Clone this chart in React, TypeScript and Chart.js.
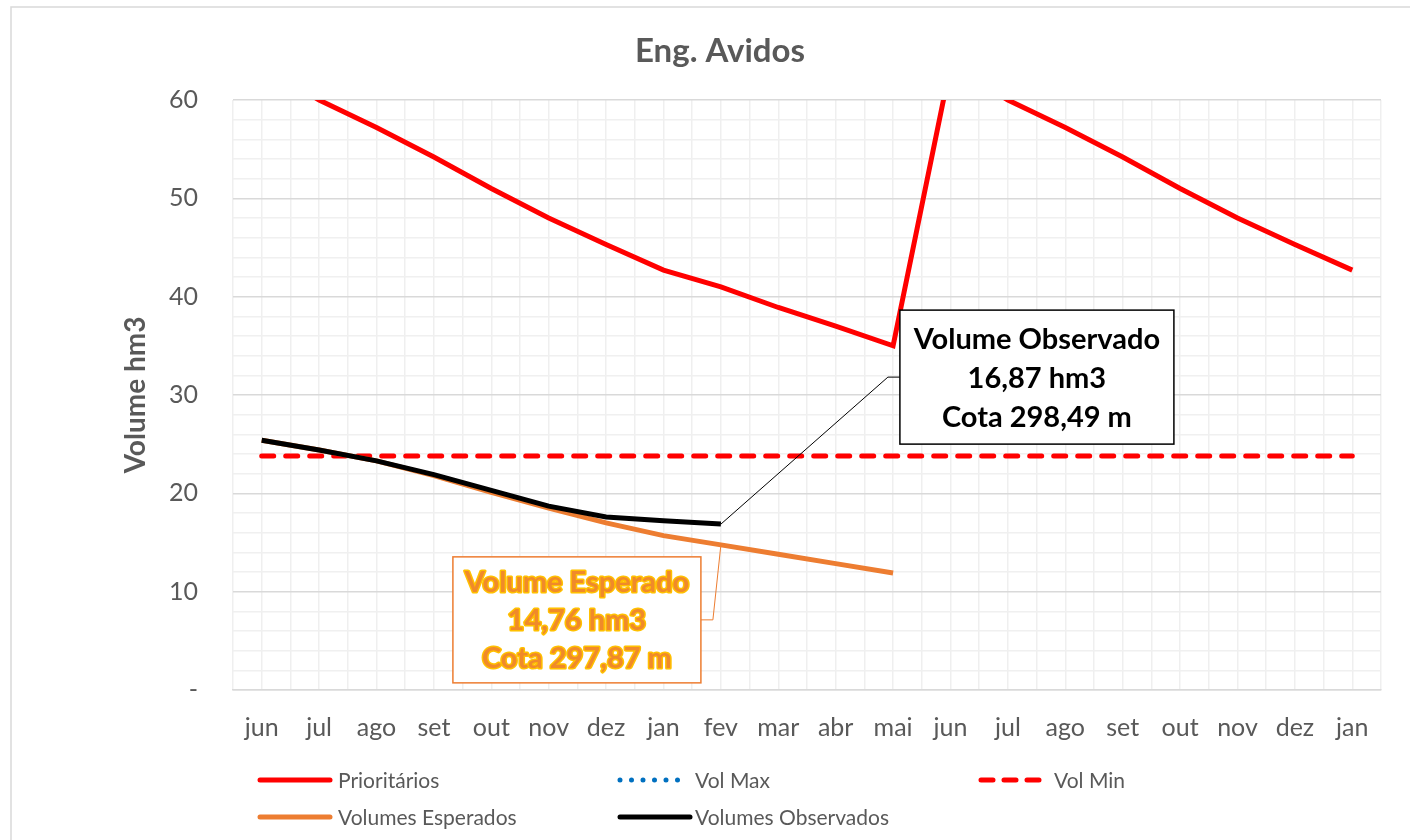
import React, { useEffect, useRef } from "react";
import { Chart, registerables } from "chart.js";

Chart.register(...registerables);

const months = ["jun", "jul", "ago", "set", "out", "nov", "dez", "jan", "fev", "mar", "abr", "mai", "jun", "jul", "ago", "set", "out", "nov", "dez", "jan"];
const prioritarios = [63.5, 60.0, 57.2, 54.2, 51.0, 48.0, 45.3, 42.7, 41.0, 38.9, 37.0, 35.0, 63.5, 60.0, 57.2, 54.2, 51.0, 48.0, 45.3, 42.7];
const volMax = [70, 70, 70, 70, 70, 70, 70, 70, 70, 70, 70, 70, 70, 70, 70, 70, 70, 70, 70, 70];
const volMin = [23.8, 23.8, 23.8, 23.8, 23.8, 23.8, 23.8, 23.8, 23.8, 23.8, 23.8, 23.8, 23.8, 23.8, 23.8, 23.8, 23.8, 23.8, 23.8, 23.8];
const esperados = [25.4, 24.4, 23.3, 21.8, 20.1, 18.5, 17.0, 15.7, 14.76, 13.8, 12.85, 11.9, null, null, null, null, null, null, null, null];
const observados = [25.4, 24.4, 23.3, 21.9, 20.3, 18.7, 17.6, 17.2, 16.87, null, null, null, null, null, null, null, null, null, null, null];
const yTicks = [0, 10, 20, 30, 40, 50, 60];
const obsLabel = ["Volume Observado", "16,87 hm3", "Cota 298,49 m"];
const espLabel = ["Volume Esperado", "14,76 hm3", "Cota 297,87 m"];
const annotIndex = 8;

const FONT = "Lato, 'Noto Sans', sans-serif";
const GRAY = "#595959";
const RED = "#FF0000";
const ORANGE = "#ED7D31";
const BLUE = "#0070C0";

const customPlugin = {
  id: "customDraw",
  beforeDraw(chart: any) {
    const ctx = chart.ctx;
    ctx.save();
    ctx.fillStyle = "#ffffff";
    ctx.fillRect(0, 0, chart.width, chart.height);
    ctx.strokeStyle = "#D9D9D9";
    ctx.lineWidth = 1.5;
    ctx.strokeRect(11, 7, chart.width + 100, chart.height + 100);
    ctx.restore();
  },
  afterDraw(chart: any) {
    const ctx = chart.ctx;
    const xs = chart.scales.x;
    const ys = chart.scales.y;
    ctx.save();
    // Title
    ctx.fillStyle = GRAY;
    ctx.font = `bold 33px ${FONT}`;
    ctx.textAlign = "center";
    ctx.textBaseline = "alphabetic";
    ctx.fillText("Eng. Avidos", 720, 62);

    // Observado annotation
    const ox = xs.getPixelForValue(annotIndex);
    const oy = ys.getPixelForValue(observados[annotIndex] as number);
    ctx.strokeStyle = "#000";
    ctx.lineWidth = 1;
    ctx.beginPath();
    ctx.moveTo(ox, oy);
    ctx.lineTo(ox + 167, oy - 147);
    ctx.lineTo(ox + 179, oy - 147);
    ctx.stroke();
    const bx = ox + 179, by = oy - 214, bw = 274, bh = 134;
    ctx.fillStyle = "#fff";
    ctx.fillRect(bx, by, bw, bh);
    ctx.lineWidth = 1.5;
    ctx.strokeRect(bx, by, bw, bh);
    ctx.fillStyle = "#000";
    ctx.font = `bold 29px ${FONT}`;
    obsLabel.forEach((t, i) => ctx.fillText(t, bx + bw / 2, by + 39 + i * 39));

    // Esperado annotation
    const ex = xs.getPixelForValue(annotIndex);
    const ey = ys.getPixelForValue(esperados[annotIndex] as number);
    ctx.strokeStyle = ORANGE;
    ctx.lineWidth = 1;
    ctx.beginPath();
    ctx.moveTo(ex, ey);
    ctx.lineTo(ex - 8, ey + 75);
    ctx.lineTo(ex - 20, ey + 75);
    ctx.stroke();
    const ebx = ex - 268, eby = ey + 12, ebw = 248, ebh = 126;
    ctx.fillStyle = "#fff";
    ctx.fillRect(ebx, eby, ebw, ebh);
    ctx.lineWidth = 1.5;
    ctx.strokeRect(ebx, eby, ebw, ebh);
    ctx.font = `bold 29px ${FONT}`;
    espLabel.forEach((t, i) => {
      const tx = ebx + ebw / 2, ty = eby + 35 + i * 38;
      ctx.strokeStyle = "#FFC000";
      ctx.lineWidth = 3;
      ctx.lineJoin = "round";
      ctx.strokeText(t, tx, ty);
      ctx.fillStyle = "#F08A2A";
      ctx.fillText(t, tx, ty);
    });

    // Legend
    const items = [
      { label: "Prioritários", color: RED, dash: [] as number[], x: 260, y: 780, len: 70, tx: 338 },
      { label: "Vol Max", color: BLUE, dash: [0, 11.5], x: 620, y: 780, len: 66, tx: 695 },
      { label: "Vol Min", color: RED, dash: [12, 11], x: 981, y: 780, len: 60, tx: 1054 },
      { label: "Volumes Esperados", color: ORANGE, dash: [], x: 260, y: 817, len: 70, tx: 338 },
      { label: "Volumes Observados", color: "#000", dash: [], x: 620, y: 817, len: 70, tx: 695 },
    ];
    ctx.textAlign = "left";
    ctx.textBaseline = "middle";
    ctx.font = `21px ${FONT}`;
    items.forEach((it) => {
      ctx.strokeStyle = it.color;
      ctx.lineWidth = 5;
      ctx.lineCap = "round";
      ctx.setLineDash(it.dash);
      ctx.beginPath();
      ctx.moveTo(it.x, it.y);
      ctx.lineTo(it.x + it.len, it.y);
      ctx.stroke();
      ctx.setLineDash([]);
      ctx.fillStyle = GRAY;
      ctx.fillText(it.label, it.tx, it.y + 1);
    });
    ctx.restore();
  },
};

export default function App() {
  const ref = useRef<HTMLCanvasElement | null>(null);
  useEffect(() => {
    document.body.style.margin = "0";
    if (!ref.current) return;
    const chart = new Chart(ref.current, {
      type: "line",
      data: {
        labels: months,
        datasets: [
          { label: "Prioritários", data: prioritarios, borderColor: RED, borderWidth: 5, pointRadius: 0, order: 4, tension: 0 },
          { label: "Vol Max", data: volMax, borderColor: BLUE, borderWidth: 5, borderDash: [0, 11.5], borderCapStyle: "round", pointRadius: 0, order: 3 },
          { label: "Vol Min", data: volMin, borderColor: RED, borderWidth: 5, borderDash: [12, 12], borderCapStyle: "round", pointRadius: 0, order: 2 },
          { label: "Volumes Esperados", data: esperados, borderColor: ORANGE, borderWidth: 5, pointRadius: 0, order: 1, spanGaps: false },
          { label: "Volumes Observados", data: observados, borderColor: "#000000", borderWidth: 5, pointRadius: 0, order: 0, spanGaps: false },
        ],
      },
      options: {
        animation: false,
        responsive: false,
        events: [],
        layout: { padding: { left: 115, top: 100, right: 29, bottom: 95 } },
        plugins: { legend: { display: false }, title: { display: false }, tooltip: { enabled: false } },
        scales: {
          x: {
            type: "category",
            offset: true,
            position: "bottom",
            grid: { offset: false, color: "#EFEFEF", lineWidth: 1.5, drawTicks: false },
            border: { display: true, color: "#D9D9D9", width: 1.5 },
            ticks: { color: GRAY, font: { family: FONT, size: 25 }, padding: 23, maxRotation: 0, autoSkip: false },
            afterFit: (s: any) => { s.height = 55; },
          },
          x2: {
            type: "category",
            labels: months,
            offset: true,
            position: "bottom",
            grid: { offset: true, color: "#EFEFEF", lineWidth: 1.5, drawTicks: false },
            border: { display: false },
            ticks: { display: false },
            afterFit: (s: any) => { s.height = 0; },
          },
          y: {
            min: 0,
            max: 60,
            grid: {
              color: (c: any) => (c.tick && yTicks.includes(c.tick.value) ? "#D9D9D9" : "#F0F0F0"),
              lineWidth: 1.5,
              drawTicks: false,
            },
            border: { display: false },
            ticks: {
              stepSize: 2,
              maxTicksLimit: 100,
              autoSkip: false,
              padding: 35,
              color: GRAY,
              font: { family: FONT, size: 25 },
              callback: (v: any) => (yTicks.includes(v) ? (v === 0 ? "-" : String(v)) : ""),
            },
            title: { display: true, text: "Volume hm3", color: GRAY, font: { family: FONT, size: 28, weight: "bold" } },
            afterFit: (s: any) => { s.width = 118; },
          },
        },
      },
      plugins: [customPlugin],
    } as any);
    return () => chart.destroy();
  }, []);
  return (
    <div style={{ width: 1410, height: 840, overflow: "hidden" }}>
      <canvas ref={ref} width={1410} height={840} style={{ display: "block" }} />
    </div>
  );
}
